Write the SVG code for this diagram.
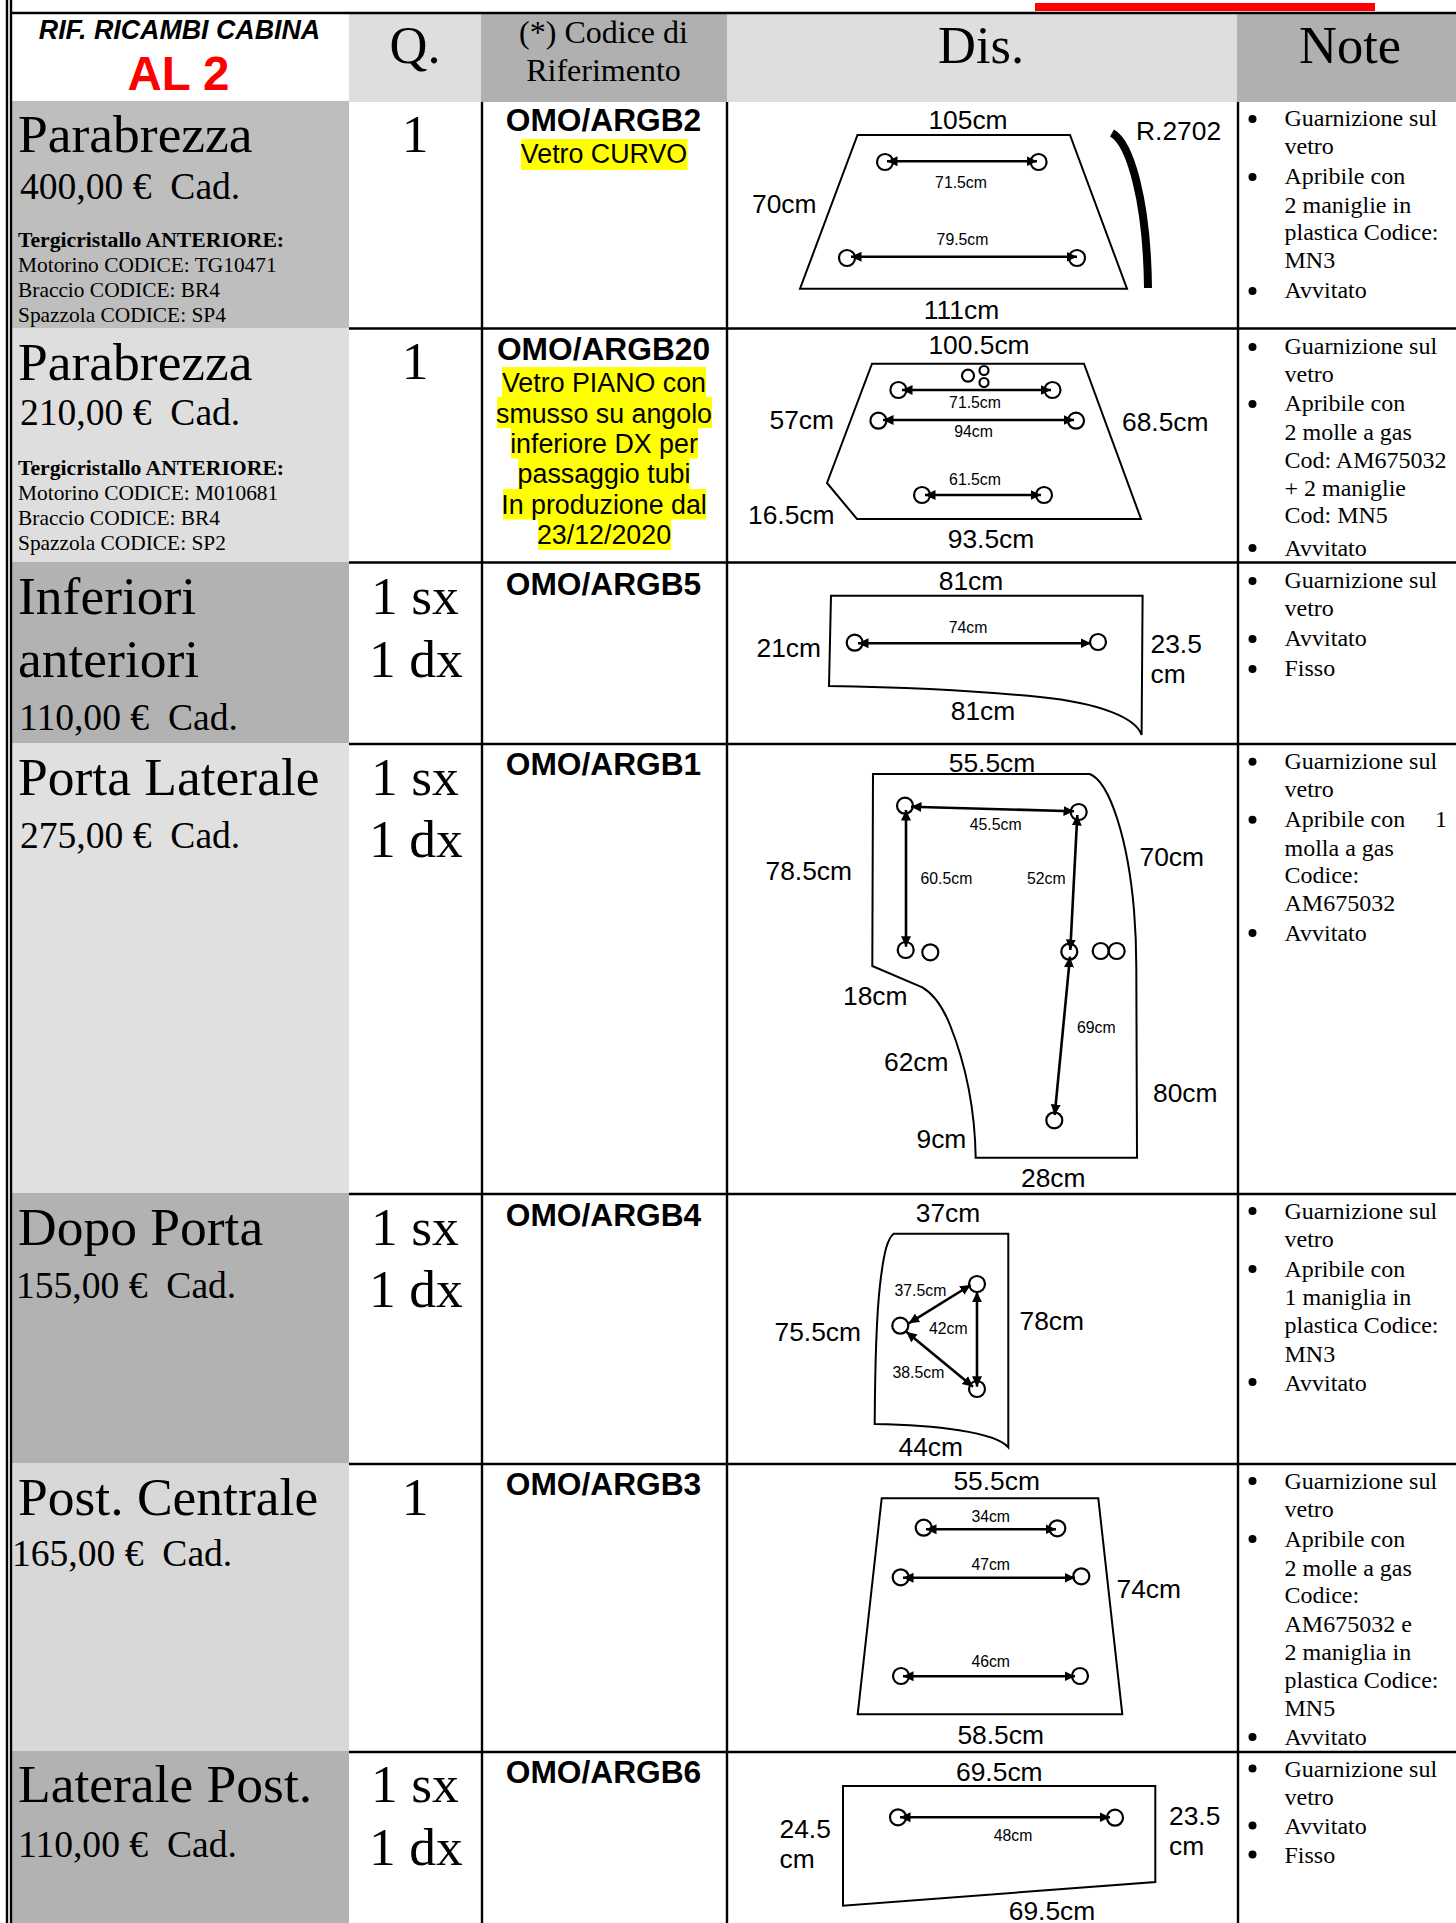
<svg xmlns="http://www.w3.org/2000/svg" width="1456" height="1923" viewBox="0 0 1456 1923">
<style>
text{white-space:pre;fill:#000}
.s{font-family:"Liberation Serif","Times New Roman",serif}
.a{font-family:"Liberation Sans",Arial,sans-serif}
.t{font-size:53.5px}
.p{font-size:37.6px}
.w{font-size:21.4px}
.wb{font-size:21.7px;font-weight:bold}
.b{font-weight:bold}
.n{font-size:24px}
.h{font-size:52.5px}
.h2{font-size:32px}
.c{font-size:31.7px;font-weight:bold}
.y{font-size:26.8px}
.d{font-size:26.4px}
.m{font-size:15.8px}
.mid{text-anchor:middle}
.grid{stroke:#000;stroke-width:2.4;fill:none}
.shape{stroke:#000;stroke-width:2;fill:none}
.hole{stroke:#000;stroke-width:2.2;fill:none}
.dim{stroke:#000;stroke-width:2.6;fill:none;marker-start:url(#ah);marker-end:url(#ah)}
.hl{fill:#ffff00}
.bu{fill:#000}
</style>
<defs>
<marker id="ah" markerUnits="userSpaceOnUse" markerWidth="12" markerHeight="12" refX="10.500" refY="6" orient="auto-start-reverse"><path d="M0,1 L10.500,6 L0,11 z" fill="#000"/></marker>
</defs>
<rect width="1456" height="1923" fill="#fff"/>
<rect x="1035" y="3" width="340" height="8" fill="#ff0000"/>

<g id="fills">
<rect x="349" y="14" width="133" height="88" fill="#dedede"/>
<rect x="481" y="14" width="246" height="88" fill="#b0b0b0"/>
<rect x="727" y="14" width="510" height="88" fill="#dedede"/>
<rect x="1237" y="14" width="219" height="88" fill="#b0b0b0"/>
<rect x="12" y="101" width="337" height="227" fill="#bebebe"/>
<rect x="12" y="328" width="337" height="234" fill="#dedede"/>
<rect x="12" y="562" width="337" height="181" fill="#b2b2b2"/>
<rect x="12" y="743" width="337" height="450" fill="#e0e0e0"/>
<rect x="12" y="1193" width="337" height="270" fill="#b2b2b2"/>
<rect x="12" y="1463" width="337" height="288" fill="#d8d8d8"/>
<rect x="12" y="1751" width="337" height="172" fill="#b2b2b2"/>
</g>

<g id="grid" class="grid">
<path d="M7,0V1923M11,0V1923"/>
<path d="M11,13H1456"/>
<path d="M482,102V1923M727,102V1923M1238,102V1923"/>
<path d="M349,328.500H1456M349,562.500H1456M349,744H1456M349,1194H1456M349,1464H1456M349,1752H1456"/>
</g>

<g id="header">
<text class="a b" x="179.500" y="39" font-size="26.800" font-style="italic" text-anchor="middle">RIF. RICAMBI CABINA</text>
<text class="a b" x="178.500" y="90" font-size="47.500" text-anchor="middle" style="fill:#ff0000">AL 2</text>
<text class="s mid h" x="415" y="63">Q.</text>
<text class="s mid h2" x="603.500" y="42.500">(*) Codice di</text>
<text class="s mid h2" x="603.500" y="80.500">Riferimento</text>
<text class="s mid h" x="981" y="63">Dis.</text>
<text class="s mid h" x="1350" y="63">Note</text>
</g>

<g id="row1">
<text class="s t" x="18" y="152">Parabrezza</text>
<text class="s p" x="20" y="199">400,00 €  Cad.</text>
<text class="s wb" x="18" y="247">Tergicristallo ANTERIORE:</text>
<text class="s w" x="18" y="272">Motorino CODICE: TG10471</text>
<text class="s w" x="18" y="297">Braccio CODICE: BR4</text>
<text class="s w" x="18" y="322">Spazzola CODICE: SP4</text>
<text class="s t mid" x="415" y="152">1</text>
<text class="a c mid" x="603.500" y="131">OMO/ARGB2</text>
<rect class="hl" x="521" y="139" width="166.500" height="31"/>
<text class="a y mid" x="604" y="163">Vetro CURVO</text>
<path class="shape" d="M857.500,135H1070L1127,288.700H800Z"/>
<path d="M1112,133C1130,143 1147,200 1148,288" fill="none" stroke="#000" stroke-width="8"/>
<g class="hole"><circle cx="885" cy="162" r="8"/><circle cx="1038.600" cy="162" r="8"/><circle cx="847" cy="258" r="8"/><circle cx="1077" cy="258" r="8"/></g>
<g class="a d"><text class="mid" x="968" y="129">105cm</text><text x="1136" y="140">R.2702</text><text x="752" y="213">70cm</text><text class="mid" x="961.500" y="319">111cm</text></g>
<g class="a m"><text class="mid" x="961" y="188">71.5cm</text><text class="mid" x="962.500" y="245">79.5cm</text></g>
<g class="s n"><text x="1284.500" y="126">Guarnizione sul</text><text x="1284.500" y="154">vetro</text><text x="1284.500" y="184">Apribile con</text><text x="1284.500" y="212.500">2 maniglie in</text><text x="1284.500" y="240">plastica Codice:</text><text x="1284.500" y="268">MN3</text><text x="1284.500" y="298">Avvitato</text></g>
<g class="bu"><circle cx="1252.500" cy="119" r="4"/><circle cx="1252.500" cy="177" r="4"/><circle cx="1252.500" cy="291" r="4"/></g>
</g>

<g id="row2">
<text class="s t" x="18" y="380">Parabrezza</text>
<text class="s p" x="20" y="425">210,00 €  Cad.</text>
<text class="s wb" x="18" y="475">Tergicristallo ANTERIORE:</text>
<text class="s w" x="18" y="500">Motorino CODICE: M010681</text>
<text class="s w" x="18" y="525">Braccio CODICE: BR4</text>
<text class="s w" x="18" y="550">Spazzola CODICE: SP2</text>
<text class="s t mid" x="415" y="379">1</text>
<text class="a c mid" x="603.500" y="360">OMO/ARGB20</text>
<g class="hl"><rect x="502" y="367" width="204" height="30.500"/><rect x="497" y="397" width="215" height="31"/><rect x="511" y="428" width="187" height="30.500"/><rect x="518.500" y="458" width="171" height="31"/><rect x="503" y="489" width="203" height="30.500"/><rect x="538" y="519" width="133" height="31"/></g>
<g class="a y"><text class="mid" x="604" y="392">Vetro PIANO con</text><text class="mid" x="604" y="422.500">smusso su angolo</text><text class="mid" x="604" y="452.500">inferiore DX per</text><text class="mid" x="604" y="483">passaggio tubi</text><text class="mid" x="604" y="514">In produzione dal</text><text class="mid" x="604" y="544">23/12/2020</text></g>
<path class="shape" d="M872,363.700H1084L1141,519H857L827,483Z"/>
<g class="hole"><circle cx="968" cy="375.700" r="6"/><circle cx="984" cy="370.500" r="4.500"/><circle cx="984" cy="382.500" r="4.500"/><circle cx="898.400" cy="390" r="8"/><circle cx="1052.500" cy="390" r="8"/><circle cx="878.400" cy="420.700" r="8"/><circle cx="1076" cy="420.700" r="8"/><circle cx="922" cy="495" r="8"/><circle cx="1044" cy="495" r="8"/></g>
<g class="a d"><text class="mid" x="979" y="354">100.5cm</text><text x="769.500" y="429">57cm</text><text x="1122" y="431">68.5cm</text><text x="748" y="524">16.5cm</text><text class="mid" x="991" y="548">93.5cm</text></g>
<g class="a m"><text class="mid" x="975" y="408">71.5cm</text><text class="mid" x="973.500" y="437">94cm</text><text class="mid" x="975" y="485">61.5cm</text></g>
<g class="s n"><text x="1284.500" y="354">Guarnizione sul</text><text x="1284.500" y="382">vetro</text><text x="1284.500" y="411">Apribile con</text><text x="1284.500" y="440">2 molle a gas</text><text x="1284.500" y="468">Cod: AM675032</text><text x="1284.500" y="496">+ 2 maniglie</text><text x="1284.500" y="523">Cod: MN5</text><text x="1284.500" y="556">Avvitato</text></g>
<g class="bu"><circle cx="1252.500" cy="347" r="4"/><circle cx="1252.500" cy="404" r="4"/><circle cx="1252.500" cy="548" r="4"/></g>
</g>

<g id="row3">
<text class="s t" x="18" y="614">Inferiori</text>
<text class="s t" x="18" y="677">anteriori</text>
<text class="s p" x="19" y="730">110,00 €  Cad.</text>
<text class="s t" x="371" y="614">1 sx</text>
<text class="s t" x="369" y="677">1 dx</text>
<text class="a c mid" x="603.500" y="595">OMO/ARGB5</text>
<path class="shape" d="M829,686L831,595.700H1142.600L1141.600,735C1136,718 1100,703 1040,697C960,689 890,687 829,686Z"/>
<g class="hole"><circle cx="854.700" cy="642.700" r="8"/><circle cx="1098" cy="642" r="8"/></g>
<g class="a d"><text class="mid" x="971" y="590">81cm</text><text x="756.500" y="657">21cm</text><text x="1150.500" y="653">23.5</text><text x="1150.500" y="683">cm</text><text class="mid" x="983" y="720">81cm</text></g>
<g class="a m"><text class="mid" x="968" y="633">74cm</text></g>
<g class="s n"><text x="1284.500" y="588">Guarnizione sul</text><text x="1284.500" y="616">vetro</text><text x="1284.500" y="646">Avvitato</text><text x="1284.500" y="676">Fisso</text></g>
<g class="bu"><circle cx="1252.500" cy="581" r="4"/><circle cx="1252.500" cy="639" r="4"/><circle cx="1252.500" cy="669" r="4"/></g>
</g>

<g id="row4">
<text class="s t" x="18" y="795">Porta Laterale</text>
<text class="s p" x="20" y="848">275,00 €  Cad.</text>
<text class="s t" x="371" y="795">1 sx</text>
<text class="s t" x="369" y="857">1 dx</text>
<text class="a c mid" x="603.500" y="775">OMO/ARGB1</text>
<path class="shape" d="M873,774H1089.700C1110,782 1128,840 1134,910C1136,935 1136.300,950 1136.300,967L1137,1157.700H975.700C975,1115 968,1070 950,1025C942,1005 932,993 922.300,987.300L872.300,966Z"/>
<g class="hole"><circle cx="905" cy="805.700" r="8"/><circle cx="1078.700" cy="812" r="8"/><circle cx="905.700" cy="950" r="8"/><circle cx="930.300" cy="952.300" r="8"/><circle cx="1069.300" cy="951.700" r="8"/><circle cx="1100.700" cy="951" r="8"/><circle cx="1116.700" cy="951" r="8"/><circle cx="1054.300" cy="1120.300" r="8"/></g>
<g class="a d"><text class="mid" x="992" y="772">55.5cm</text><text x="1139.500" y="866">70cm</text><text x="765.500" y="880">78.5cm</text><text x="843" y="1005">18cm</text><text x="884" y="1071">62cm</text><text x="1153" y="1102">80cm</text><text x="916.500" y="1148">9cm</text><text x="1021" y="1187">28cm</text></g>
<g class="a m"><text class="mid" x="995.700" y="830">45.5cm</text><text x="920.500" y="884">60.5cm</text><text x="1027" y="884">52cm</text><text x="1077" y="1033">69cm</text></g>
<g class="s n"><text x="1284.500" y="769">Guarnizione sul</text><text x="1284.500" y="797">vetro</text><text x="1284.500" y="827">Apribile con</text><text x="1435" y="827">1</text><text x="1284.500" y="856">molla a gas</text><text x="1284.500" y="883">Codice:</text><text x="1284.500" y="911">AM675032</text><text x="1284.500" y="941">Avvitato</text></g>
<g class="bu"><circle cx="1252.500" cy="761.700" r="4"/><circle cx="1252.500" cy="819.700" r="4"/><circle cx="1252.500" cy="933" r="4"/></g>
</g>

<g id="row5">
<text class="s t" x="18" y="1245">Dopo Porta</text>
<text class="s p" x="16" y="1298">155,00 €  Cad.</text>
<text class="s t" x="371" y="1245">1 sx</text>
<text class="s t" x="369" y="1307">1 dx</text>
<text class="a c mid" x="603.500" y="1226">OMO/ARGB4</text>
<path class="shape" d="M893.700,1233.700H1008.300V1447.300C995,1432 935,1425 874.700,1424C875,1370 876,1320 880,1285C884,1250 888,1238 893.700,1233.700Z"/>
<g class="hole"><circle cx="977" cy="1284" r="8"/><circle cx="900.300" cy="1325.700" r="8"/><circle cx="977" cy="1389" r="8"/></g>
<g class="a d"><text class="mid" x="948" y="1222">37cm</text><text x="774.500" y="1341">75.5cm</text><text x="1019.500" y="1330">78cm</text><text x="898.500" y="1455.500">44cm</text></g>
<g class="a m"><text x="894.500" y="1296">37.5cm</text><text x="929" y="1334">42cm</text><text x="892.500" y="1378">38.5cm</text></g>
<g class="s n"><text x="1284.500" y="1219">Guarnizione sul</text><text x="1284.500" y="1247">vetro</text><text x="1284.500" y="1276.500">Apribile con</text><text x="1284.500" y="1305">1 maniglia in</text><text x="1284.500" y="1333">plastica Codice:</text><text x="1284.500" y="1362">MN3</text><text x="1284.500" y="1390.500">Avvitato</text></g>
<g class="bu"><circle cx="1252.500" cy="1211" r="4"/><circle cx="1252.500" cy="1269" r="4"/><circle cx="1252.500" cy="1382" r="4"/></g>
</g>

<g id="row6">
<text class="s t" x="18" y="1515">Post. Centrale</text>
<text class="s p" x="12" y="1566">165,00 €  Cad.</text>
<text class="s t mid" x="415" y="1515">1</text>
<text class="a c mid" x="603.500" y="1495">OMO/ARGB3</text>
<path class="shape" d="M881.700,1498.300H1098.300L1122.300,1714.300H857.700Z"/>
<g class="hole"><circle cx="923.700" cy="1527.700" r="8"/><circle cx="1057.300" cy="1528.300" r="8"/><circle cx="900.700" cy="1577.300" r="8"/><circle cx="1081.300" cy="1576.300" r="8"/><circle cx="901" cy="1676" r="8"/><circle cx="1080" cy="1676" r="8"/></g>
<g class="a d"><text class="mid" x="996.700" y="1489.500">55.5cm</text><text x="1116.500" y="1598">74cm</text><text class="mid" x="1000.700" y="1744">58.5cm</text></g>
<g class="a m"><text class="mid" x="990.700" y="1522">34cm</text><text class="mid" x="990.700" y="1570">47cm</text><text class="mid" x="990.700" y="1667">46cm</text></g>
<g class="s n"><text x="1284.500" y="1489">Guarnizione sul</text><text x="1284.500" y="1517">vetro</text><text x="1284.500" y="1547">Apribile con</text><text x="1284.500" y="1575.500">2 molle a gas</text><text x="1284.500" y="1603">Codice:</text><text x="1284.500" y="1632">AM675032 e</text><text x="1284.500" y="1659.500">2 maniglia in</text><text x="1284.500" y="1688">plastica Codice:</text><text x="1284.500" y="1715.500">MN5</text><text x="1284.500" y="1744.500">Avvitato</text></g>
<g class="bu"><circle cx="1252.500" cy="1481" r="4"/><circle cx="1252.500" cy="1539" r="4"/><circle cx="1252.500" cy="1737" r="4"/></g>
</g>

<g id="row7">
<text class="s t" x="18" y="1802">Laterale Post.</text>
<text class="s p" x="18" y="1857">110,00 €  Cad.</text>
<text class="s t" x="371" y="1802">1 sx</text>
<text class="s t" x="369" y="1865">1 dx</text>
<text class="a c mid" x="603.500" y="1783">OMO/ARGB6</text>
<path class="shape" d="M843,1786H1155.300V1882L843,1905.700Z"/>
<g class="hole"><circle cx="898" cy="1817.300" r="8"/><circle cx="1115" cy="1817.700" r="8"/></g>
<g class="a d"><text class="mid" x="999.300" y="1781">69.5cm</text><text x="779.500" y="1838">24.5</text><text x="779.500" y="1868">cm</text><text x="1169" y="1824.500">23.5</text><text x="1169" y="1854.500">cm</text><text class="mid" x="1052" y="1919.500">69.5cm</text></g>
<g class="a m"><text class="mid" x="1013" y="1841">48cm</text></g>
<g class="s n"><text x="1284.500" y="1776.500">Guarnizione sul</text><text x="1284.500" y="1804.500">vetro</text><text x="1284.500" y="1833.500">Avvitato</text><text x="1284.500" y="1862.500">Fisso</text></g>
<g class="bu"><circle cx="1252.500" cy="1768.500" r="4"/><circle cx="1252.500" cy="1825.500" r="4"/><circle cx="1252.500" cy="1854.500" r="4"/></g>
</g>

<g id="connectors">
<path class="dim" d="M887,161.300H1037"/>
<path class="dim" d="M851,256.700H1077"/>
<path class="dim" d="M902,390H1051"/>
<path class="dim" d="M883,420H1074"/>
<path class="dim" d="M925,495H1041"/>
<path class="dim" d="M858,643.300H1091"/>
<path class="dim" d="M911,806.700L1074,811.300"/>
<path class="dim" d="M906,810V946.700"/>
<path class="dim" d="M1077.300,815L1070.300,950"/>
<path class="dim" d="M1070,956.700L1054.700,1115"/>
<path class="dim" d="M970.700,1285L908.700,1323.300"/>
<path class="dim" d="M906.300,1331.700L973,1386.700"/>
<path class="dim" d="M977,1291.700V1386.700"/>
<path class="dim" d="M926,1529.300H1056"/>
<path class="dim" d="M903,1577.700H1075"/>
<path class="dim" d="M903,1676.300H1075"/>
<path class="dim" d="M900,1817.300H1110"/>
</g>
</svg>
